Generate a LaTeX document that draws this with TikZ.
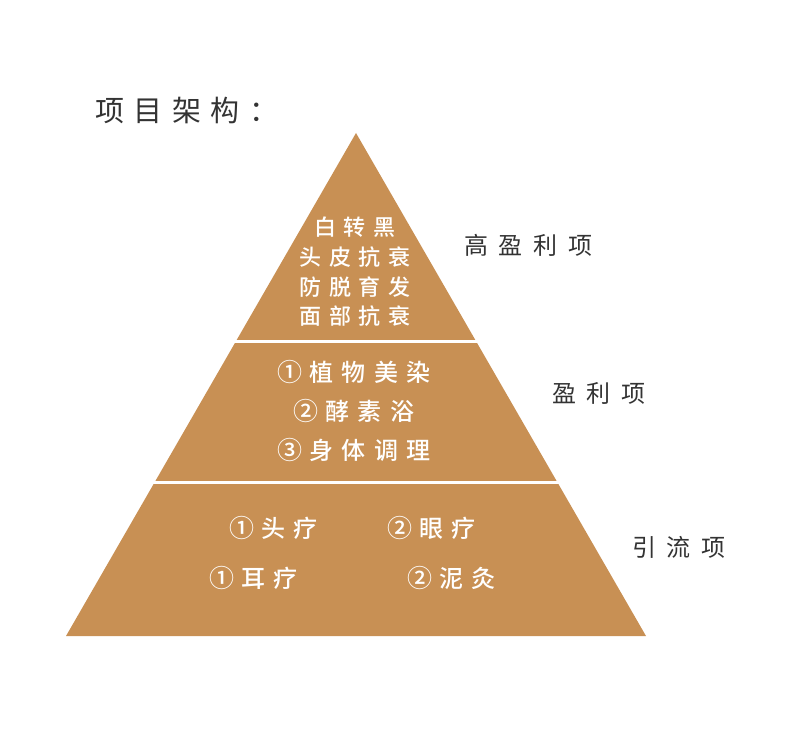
\documentclass[tikz,border=0pt]{standalone}
\usepackage{fontspec}
\setmainfont{Noto Sans CJK SC}
\newfontfamily\cjkwide[LetterSpace=45]{Noto Sans CJK SC}
\newfontfamily\cjktitle[LetterSpace=33]{Noto Sans CJK SC}
\newfontfamily\cjkmid[LetterSpace=35,UprightFont=* Medium]{Noto Sans CJK SC}
\definecolor{pyrbrown}{RGB}{200,144,84}
\definecolor{labgrey}{RGB}{51,51,51}
\newcommand\cnum[1]{{\fontsize{25}{25}\selectfont\raisebox{-0.5pt}{#1}}\hspace{7pt}}

\begin{document}
\begin{tikzpicture}[x=1pt,y=1pt,yscale=-1,xscale=1,
  inlayer/.style={text=white,inner sep=0pt,align=center,font=\cjkmid\fontsize{24}{30}\selectfont},
  sidelabel/.style={text=labgrey,inner sep=0pt,anchor=west,font=\cjkwide\fontsize{24}{24}\selectfont}]
\useasboundingbox (0,0) rectangle (800,733);

%Shape: Triangle [id:pyramid]
\fill[pyrbrown] (356,133) -- (646,636) -- (66,636) -- cycle;
%Straight Lines [id:cut top]
\draw[white,line width=3] (200,341) -- (520,341);
%Straight Lines [id:cut bottom]
\draw[white,line width=3] (120,482) -- (600,482);

% Text Node
\node[anchor=west,inner sep=0pt,text=labgrey,font=\cjktitle\fontsize{29}{29}\selectfont] (title) at (95,110) {项目架构：};

% Text Node
\node[inlayer,font=\cjkmid\fontsize{22}{29.6}\selectfont] (toptext) at (355,272) {白转黑\\头皮抗衰\\防脱育发\\面部抗衰};
% Text Node
\node[inlayer,font=\cjkmid\fontsize{24}{39}\selectfont] (midtext) at (354,411) {\cnum{①}植物美染\\\cnum{②}酵素浴\\\cnum{③}身体调理};
% Text Node
\node[inlayer,anchor=west] (headcare) at (229,528) {\cnum{①}头疗};
% Text Node
\node[inlayer,anchor=west] (eyecare) at (387,528) {\cnum{②}眼疗};
% Text Node
\node[inlayer,anchor=west] (earcare) at (209,578) {\cnum{①}耳疗};
% Text Node
\node[inlayer,anchor=west] (mudmoxa) at (407,578) {\cnum{②}泥灸};

% Text Node
\node[sidelabel] (highprofit) at (464,245) {高盈利项};
% Text Node
\node[sidelabel] (profit) at (552,393) {盈利项};
% Text Node
\node[sidelabel] (traffic) at (632,547) {引流项};

\end{tikzpicture}
\end{document}
